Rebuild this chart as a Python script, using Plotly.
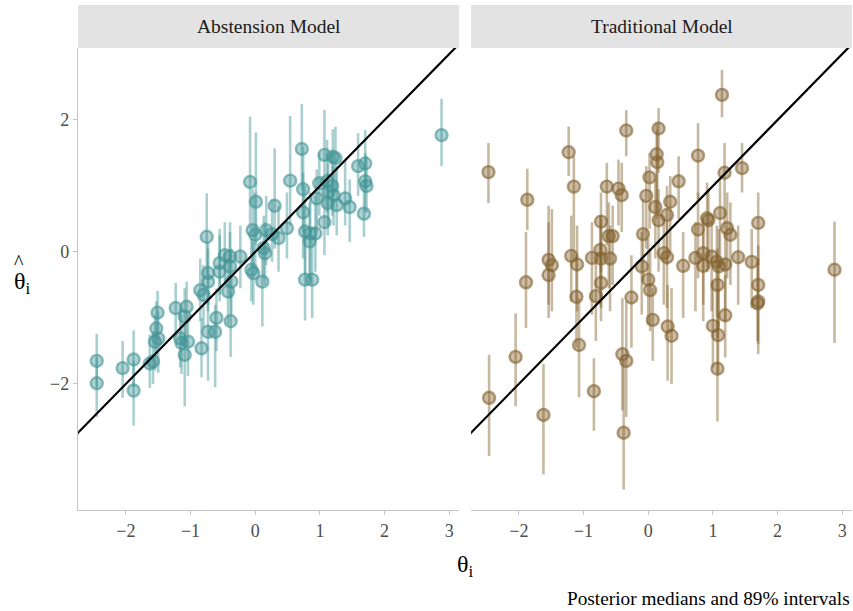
import plotly.graph_objects as go

# ---------------- data ----------------
panel_titles = ["Abstension Model", "Traditional Model"]
x_ticks = [-2, -1, 0, 1, 2, 3]
y_ticks = [-2, 0, 2]
ref_line = [-3.5, 3.5]

abs_x = [2.88, 0.72, 1.07, 1.20, 1.24, 1.59, 1.70, -0.08, 0.54, 0.74,
         0.99, 1.11, 1.19, 1.70, 1.72, 0.01, 0.30, 0.95, 1.13, 1.21,
         1.12, 1.26, 1.39, 1.46, 1.68, 0.74, 1.07, -0.75, -0.04, 0.00,
         0.17, 0.26, 0.36, 0.49, 0.77, 0.85, 0.93, 0.84, 0.13, 0.15,
         -0.23, -0.39, -0.47, -0.55, -0.39, -0.73, -0.55, -0.06, -0.03, -0.73,
         -0.37, 0.11, 0.77, 0.88, -0.85, -0.80, -0.42, -1.51, -1.23, -1.06,
         -1.09, -0.60, -0.38, -1.53, -1.55, -1.50, -1.16, -1.14, -1.04, -0.73,
         -0.62, -0.83, -1.09, -1.63, -1.58, -2.45, -2.45, -2.05, -1.88, -1.88]
abs_med = [1.77, 1.56, 1.47, 1.44, 1.42, 1.30, 1.34, 1.06, 1.08, 0.95,
           1.04, 1.07, 1.00, 1.07, 1.00, 0.76, 0.70, 0.81, 0.91, 0.86,
           0.74, 0.71, 0.81, 0.68, 0.58, 0.60, 0.45, 0.23, 0.33, 0.26,
           0.33, 0.27, 0.21, 0.36, 0.31, 0.28, 0.28, 0.16, 0.06, -0.02,
           -0.07, -0.07, -0.05, -0.17, -0.22, -0.32, -0.30, -0.27, -0.32, -0.45,
           -0.45, -0.45, -0.42, -0.42, -0.58, -0.65, -0.60, -0.92, -0.85, -0.83,
           -0.98, -1.00, -1.05, -1.16, -1.36, -1.31, -1.31, -1.38, -1.36, -1.21,
           -1.21, -1.46, -1.56, -1.69, -1.66, -1.65, -1.99, -1.76, -1.63, -2.10]
abs_lo = [1.30, 0.95, 0.95, 0.98, 0.90, 0.85, 0.95, 0.35, 0.40, 0.30,
          0.55, 0.60, 0.55, 0.60, 0.60, 0.10, 0.05, 0.30, 0.40, 0.40,
          0.25, 0.25, 0.40, 0.15, 0.23, -0.10, -0.05, -0.35, -0.25, -0.30,
          -0.20, -0.15, -0.30, -0.10, -0.35, -0.40, -0.30, -0.45, -0.40, -0.50,
          -0.55, -0.50, -0.45, -0.65, -0.70, -0.80, -0.75, -0.75, -0.80, -0.90,
          -0.95, -1.13, -1.04, -1.00, -1.05, -1.15, -1.10, -1.35, -1.30, -1.25,
          -1.45, -1.50, -1.59, -1.60, -1.80, -1.83, -1.75, -1.85, -1.88, -1.95,
          -2.05, -1.90, -2.34, -2.06, -2.00, -2.05, -2.50, -2.21, -2.05, -2.63]
abs_hi = [2.32, 2.24, 2.15, 1.86, 1.90, 1.80, 1.85, 2.05, 2.06, 1.60,
          1.50, 1.70, 1.55, 1.50, 1.45, 1.81, 1.57, 1.25, 1.35, 1.30,
          1.20, 1.30, 1.40, 1.10, 1.10, 1.20, 1.00, 0.89, 0.95, 0.90,
          0.85, 0.80, 0.70, 0.90, 1.00, 0.90, 0.85, 0.75, 0.55, 0.45,
          0.40, 0.45, 0.45, 0.35, 0.30, 0.15, 0.25, 0.20, 0.15, 0.05,
          0.05, 0.05, 0.25, 0.20, -0.10, -0.20, -0.10, -0.59, -0.47, -0.45,
          -0.55, -0.55, -0.60, -0.75, -0.95, -0.90, -0.85, -0.95, -0.95, -0.75,
          -0.80, -1.00, -1.10, -1.25, -1.20, -1.24, -1.60, -1.35, -1.19, -1.65]

trad_x = [-2.47, -1.87, -1.23, -1.15, -0.34, 0.16, 0.13, 0.14, 1.14, 0.77,
          1.18, 1.45, -0.64, -0.46, -0.41, 0.02, -0.03, 0.47, 0.34, 0.11,
          0.29, 0.16, -0.73, -0.61, -0.55, -0.08, 0.77, 0.91, 0.93, 1.11,
          1.22, 1.27, 1.70, 2.88, -1.54, -1.49, -1.54, -1.19, -1.10, -1.89,
          -0.87, -0.74, -0.73, -0.59, -0.73, -0.10, 0.00, 0.03, 0.24, 0.29,
          0.54, 0.73, 0.85, 0.85, 0.98, 1.06, 1.09, 1.19, 1.39, 1.60,
          1.70, 1.07, -1.11, -0.81, -0.26, 0.07, 0.30, 0.36, 1.00, 1.08,
          1.19, 1.07, 1.70, 1.69, -2.05, -2.46, -1.62, -1.07, -0.84, -0.40,
          -0.34, -0.38]
trad_med = [1.21, 0.79, 1.51, 0.99, 1.84, 1.87, 1.48, 1.36, 2.38, 1.46,
            1.20, 1.27, 0.99, 0.96, 0.86, 1.13, 0.85, 1.07, 0.76, 0.68,
            0.56, 0.48, 0.46, 0.24, 0.24, 0.27, 0.34, 0.51, 0.48, 0.59,
            0.36, 0.26, 0.44, -0.27, -0.12, -0.20, -0.35, -0.06, -0.19, -0.46,
            -0.09, 0.03, -0.10, -0.10, -0.47, -0.22, -0.42, -0.58, -0.02, -0.08,
            -0.21, -0.09, -0.02, -0.21, -0.07, -0.15, -0.22, -0.19, -0.08, -0.15,
            -0.50, -0.50, -0.68, -0.67, -0.69, -1.03, -1.13, -1.27, -1.12, -1.26,
            -0.96, -1.77, -0.75, -0.78, -1.59, -2.21, -2.47, -1.41, -2.11, -1.55,
            -1.65, -2.74]
trad_lo = [0.74, 0.33, 1.15, -0.10, 1.45, 1.20, 0.60, 0.50, 2.04, 0.80,
           0.35, 0.90, 0.10, 0.40, 0.30, 0.35, 0.05, 0.50, 0.00, -0.10,
           -0.20, -0.30, -0.30, -0.55, -0.50, -0.45, -0.40, -0.30, -0.25, -0.20,
           -0.40, -0.50, -0.20, -1.38, -0.80, -0.90, -1.00, -0.75, -0.90, -1.15,
           -0.95, -0.80, -0.85, -0.90, -1.05, -0.95, -1.10, -1.20, -0.80, -0.85,
           -1.00, -0.90, -0.80, -1.05, -0.90, -1.00, -1.10, -1.05, -0.80, -0.85,
           -1.40, -1.30, -1.45, -1.35, -1.45, -1.65, -1.95, -2.00, -1.75, -1.85,
           -1.60, -2.57, -1.55, -1.35, -2.34, -3.09, -3.37, -2.20, -2.71, -2.40,
           -2.50, -3.60]
trad_hi = [1.65, 1.26, 1.90, 1.45, 2.15, 2.18, 1.95, 1.85, 2.76, 1.95,
           1.65, 1.65, 1.35, 1.40, 1.35, 1.50, 1.30, 1.45, 1.15, 1.10,
           1.00, 0.95, 0.90, 0.75, 0.70, 0.80, 0.90, 1.05, 0.95, 1.10,
           0.90, 0.75, 0.90, 0.46, 0.70, 0.65, 0.45, 0.55, 0.40, 0.30,
           0.45, 0.55, 0.50, 0.40, 0.15, 0.30, 0.20, 0.05, 0.50, 0.45,
           0.30, 0.45, 0.50, 0.30, 0.45, 0.40, 0.35, 0.30, 0.40, 0.35,
           0.10, 0.05, -0.05, -0.10, -0.05, -0.55, -0.50, -0.55, -0.45, -0.55,
           -0.35, -1.05, -0.10, -0.15, -0.93, -1.56, -1.70, -0.70, -1.61, -0.70,
           -0.75, -1.65]

# ---------------- style ----------------
FONT = "Liberation Serif"
teal = (66, 148, 150)
brown = (130, 97, 45)


def rgba(c, a):
    return f"rgba({c[0]},{c[1]},{c[2]},{a})"


fig = go.Figure()

panels = [
    (abs_x, abs_med, abs_lo, abs_hi, teal, "x", "y"),
    (trad_x, trad_med, trad_lo, trad_hi, brown, "x2", "y2"),
]
for xs, med, lo, hi, col, xa, ya in panels:
    plus = [h - m for h, m in zip(hi, med)]
    minus = [m - l for m, l in zip(med, lo)]
    fig.add_trace(go.Scatter(
        x=xs, y=med, mode="markers", xaxis=xa, yaxis=ya, showlegend=False,
        error_y=dict(type="data", symmetric=False, array=plus, arrayminus=minus,
                     color=rgba(col, 0.45), thickness=2.6, width=0),
        marker=dict(size=12, color=rgba(col, 0.42),
                    line=dict(color=rgba(col, 0.6), width=2.4)),
    ))
    fig.add_trace(go.Scatter(
        x=ref_line, y=ref_line, mode="lines", xaxis=xa, yaxis=ya,
        showlegend=False, line=dict(color="black", width=2.2),
    ))

x_range = [-2.74, 3.15]
y_range = [-3.91, 3.09]
gap = (471 - 459) / 774
d1 = (459 - 78) / 774

tickfont = dict(family=FONT, size=18, color="#4d4d4d")
axis_common = dict(
    range=x_range, tickvals=x_ticks,
    ticktext=[str(v).replace("-", "\u2212") for v in x_ticks],
    showgrid=False, zeroline=False, showline=True, linecolor="#c4c4c4",
    linewidth=1.3, ticks="outside", ticklen=4, tickcolor="#c4c4c4",
    tickfont=tickfont,
)
fig.update_layout(
    width=853, height=611,
    margin=dict(l=78, r=1, t=48, b=101),
    paper_bgcolor="white", plot_bgcolor="white",
    font=dict(family=FONT, color="black"),
    xaxis=dict(domain=[0, d1], anchor="y", **axis_common),
    xaxis2=dict(domain=[d1 + gap, 1], anchor="y2", **axis_common),
    yaxis=dict(range=y_range, tickvals=y_ticks,
               ticktext=[str(v).replace("-", "\u2212") for v in y_ticks],
               showgrid=False, zeroline=False, showline=True,
               linecolor="#c4c4c4", linewidth=1.3, ticks="outside",
               ticklen=4, tickcolor="#c4c4c4", anchor="x",
               tickfont=tickfont),
    yaxis2=dict(range=y_range, showgrid=False, zeroline=False,
                showline=False, showticklabels=False, ticks="", anchor="x2"),
)

strip_top = (510 - 5) / 462
shapes = []
annotations = []
for (x0, x1), title in zip([(0, d1), (d1 + gap, 1)], panel_titles):
    shapes.append(dict(type="rect", xref="paper", yref="paper", x0=x0, x1=x1,
                       y0=1.0, y1=strip_top, fillcolor="#e3e3e3",
                       line=dict(width=0), layer="below"))
    annotations.append(dict(text=title, xref="paper", yref="paper",
                            x=(x0 + x1) / 2, y=(1.0 + strip_top) / 2,
                            showarrow=False, xanchor="center", yanchor="middle",
                            font=dict(family=FONT, size=19.5, color="#1a1a1a")))

# y-axis title: theta-hat with subscript i
annotations.append(dict(text="\u03b8<sub>i</sub>", xref="paper", yref="paper",
                        x=(22 - 78) / 774, y=(510 - 283) / 462, showarrow=False,
                        xanchor="center", yanchor="middle",
                        font=dict(family=FONT, size=24, color="black")))
annotations.append(dict(text="^", xref="paper", yref="paper",
                        x=(19 - 78) / 774, y=(510 - 262) / 462, showarrow=False,
                        xanchor="center", yanchor="middle",
                        font=dict(family=FONT, size=20, color="black")))
annotations.append(dict(text="\u03b8<sub>i</sub>", xref="paper", yref="paper",
                        x=(465 - 78) / 774, y=(510 - 566) / 462, showarrow=False,
                        xanchor="center", yanchor="middle",
                        font=dict(family=FONT, size=24, color="black")))
annotations.append(dict(text="Posterior medians and 89% intervals",
                        xref="paper", yref="paper", x=1.0,
                        y=(510 - 598) / 462, showarrow=False,
                        xanchor="right", yanchor="middle",
                        font=dict(family=FONT, size=19.3, color="black")))

fig.update_layout(shapes=shapes, annotations=annotations)
fig.write_html("out.html",
               config={"displayModeBar": False},
               post_script="document.body.style.margin='0px';"
                           "document.body.style.padding='0px';")
